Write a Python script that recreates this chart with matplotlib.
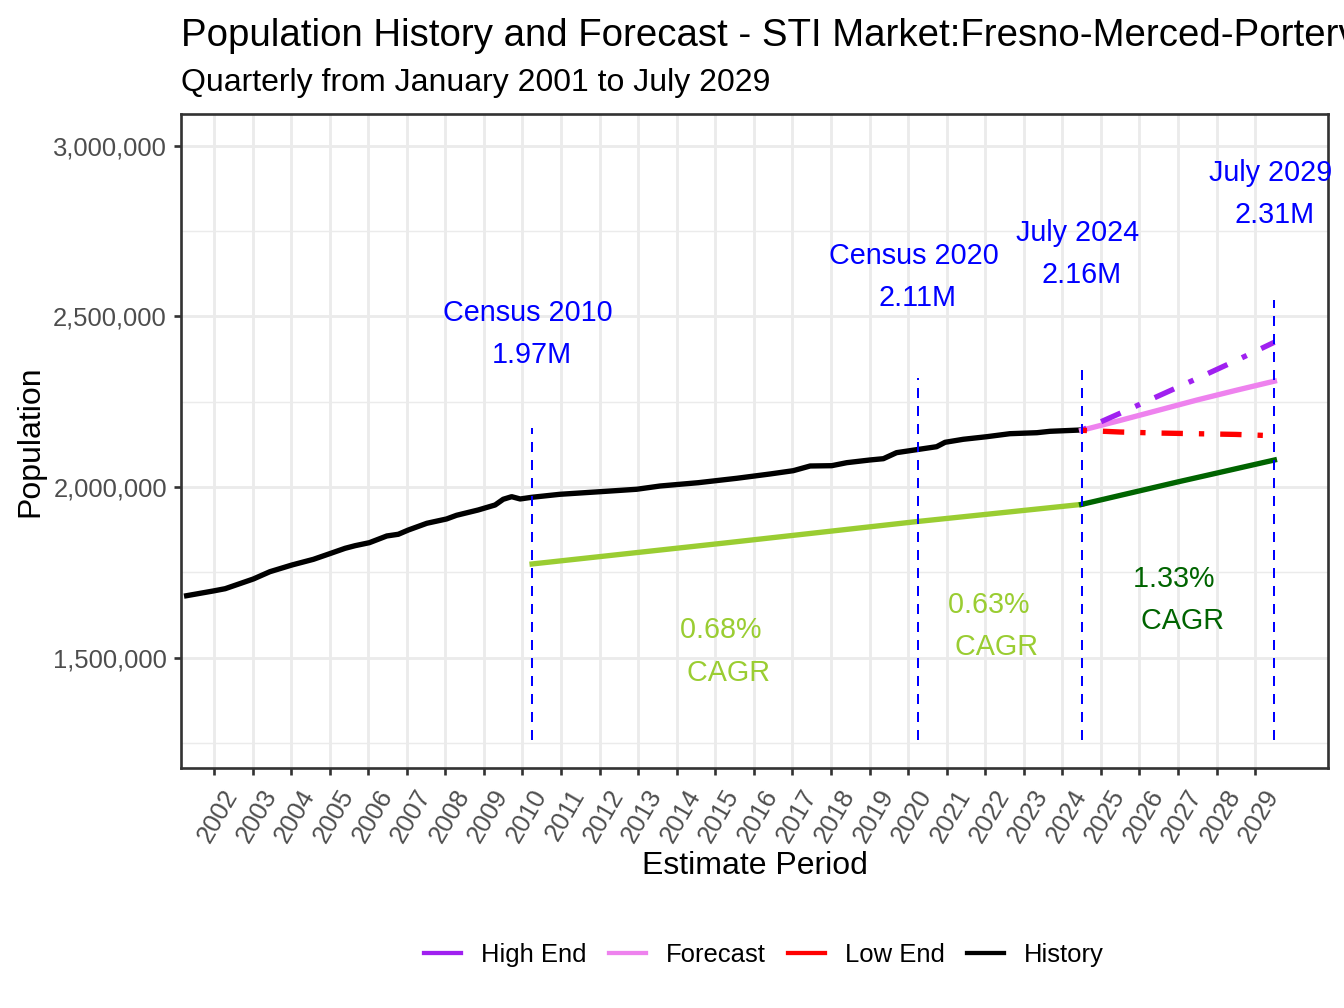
import matplotlib.pyplot as plt
from matplotlib.lines import Line2D
from matplotlib.ticker import FuncFormatter, MultipleLocator
from matplotlib.transforms import ScaledTranslation, blended_transform_factory

plt.rcParams['font.family'] = ['Liberation Sans', 'DejaVu Sans']

# ---------------- data ----------------
hist_year = [2001.29, 2001.98, 2002.29, 2003.02, 2003.45, 2004.02, 2004.58, 2005.03,
             2005.40, 2005.66, 2006.03, 2006.48, 2006.78, 2007.04, 2007.52, 2008.03,
             2008.29, 2008.85, 2009.29, 2009.50, 2009.72, 2009.94, 2010.24, 2010.97,
             2012.01, 2012.96, 2013.57, 2014.56, 2015.56, 2016.42, 2017.02, 2017.46,
             2018.02, 2018.41, 2019.01, 2019.36, 2019.70, 2020.22, 2020.74, 2020.96,
             2021.43, 2022.04, 2022.64, 2023.34, 2023.68, 2024.50]
hist_pop = [1681600, 1695400, 1702100, 1730500, 1751900, 1771500, 1788200, 1805800,
            1820400, 1828100, 1836900, 1856500, 1861500, 1874000, 1893700, 1906300,
            1917100, 1932600, 1947300, 1964000, 1971600, 1964900, 1969800, 1978600,
            1986200, 1993300, 2002900, 2012600, 2025500, 2038100, 2047700, 2061500,
            2062400, 2071200, 2079100, 2082900, 2100500, 2109300, 2118000, 2130900,
            2139700, 2147300, 2156100, 2159000, 2163100, 2167000]

fc_year = [2024.5, 2025.5, 2026.5, 2027.5, 2028.5, 2029.5]
forecast = [2166000, 2195000, 2225000, 2255000, 2283000, 2310000]
high_end = [2166000, 2216000, 2267000, 2318000, 2370000, 2424000]
low_end = [2166000, 2161000, 2158000, 2156000, 2154000, 2150000]

cagr1_year = [2010.25, 2015.25, 2020.25, 2024.5]
cagr1_pop = [1774500, 1836000, 1899000, 1949000]
cagr2_year = [2024.5, 2027.0, 2029.5]
cagr2_pop = [1949000, 2015000, 2079000]

mark_year = [2010.25, 2020.25, 2024.5, 2029.5]
mark_name = ['Census 2010', 'Census 2020', 'July 2024', 'July 2029']
mark_val = ['1.97M', '2.11M', '2.16M', '2.31M']

cagr_text = ['0.68%', '0.63%', '1.33%']
cagr_mid = [2015.25, 2022.2, 2027.0]

years = list(range(2002, 2030))

# ---------------- figure ----------------
fig = plt.figure(figsize=(7, 5.25), dpi=192)
ax = fig.add_axes([181/1344, 1-768/1008, (1328-181)/1344, (768-114)/1008])

ax.set_xlim(2001.144, 2030.89)
ax.set_ylim(1176900, 3092500)

ax.set_xticks(years)
ax.set_xticklabels([])
# rotated year labels, placed by hand so they sit like the ggplot ones
lab_tr = blended_transform_factory(ax.transData, ax.transAxes) + \
    ScaledTranslation(8/192, -17/192, fig.dpi_scale_trans)
for y in years:
    ax.text(y, 0, str(y), transform=lab_tr, rotation=60, ha='right', va='top',
            rotation_mode='anchor', fontsize=9.6, color='#4D4D4D', clip_on=False)

ax.yaxis.set_major_locator(MultipleLocator(500000))
ax.yaxis.set_minor_locator(MultipleLocator(250000))
ax.yaxis.set_major_formatter(FuncFormatter(lambda v, p: f'{int(v):,}'))
ax.tick_params(axis='both', which='major', length=2.75, width=1.0, color='#333333',
               labelcolor='#4D4D4D', labelsize=9.6, pad=2.5)
ax.tick_params(axis='y', which='minor', length=0)

ax.grid(which='major', color='#EBEBEB', lw=1.07, zorder=0)
ax.grid(which='minor', axis='y', color='#EBEBEB', lw=0.55, zorder=0)
ax.set_axisbelow(True)
for s in ax.spines.values():
    s.set_color('#333333')
    s.set_linewidth(1.0)

lw = 2.0
dd = (0, (1, 3, 4, 3))
ax.plot(hist_year, hist_pop, color='black', lw=lw, zorder=3)
ax.plot(fc_year, forecast, color='violet', lw=lw, zorder=3)
ax.plot(fc_year, high_end, color='#A020F0', lw=lw, ls=dd, dash_capstyle='butt', zorder=3)
ax.plot(fc_year, low_end, color='red', lw=lw, ls=dd, dash_capstyle='butt', zorder=3)
ax.plot(cagr1_year, cagr1_pop, color='yellowgreen', lw=lw, zorder=3)
ax.plot(cagr2_year, cagr2_pop, color='darkgreen', lw=lw, zorder=3)

# vertical marker lines and labels
vline_top = [2172000, 2319000, 2366000, 2548000]
label_y = [2448000, 2615000, 2682000, 2858000]
for x, top, ly, nm, vl in zip(mark_year, vline_top, label_y, mark_name, mark_val):
    ax.plot([x, x], [1258000, top], color='blue', lw=0.75, ls=(0, (5, 4)), zorder=4)
    ax.annotate(nm + ' ', (x, ly), xytext=(0, 8), textcoords='offset points',
                ha='center', va='center', color='blue', fontsize=10.8,
                annotation_clip=False)
    ax.annotate(vl, (x, ly), xytext=(0, -8), textcoords='offset points',
                ha='center', va='center', color='blue', fontsize=10.8,
                annotation_clip=False)

cagr_y = [1519000, 1593000, 1669000]
cagr_col = ['yellowgreen', 'yellowgreen', 'darkgreen']
for x, y, t, c in zip(cagr_mid, cagr_y, cagr_text, cagr_col):
    ax.annotate(t + ' ', (x, y), xytext=(0, 8), textcoords='offset points',
                ha='center', va='center', color=c, fontsize=10.8)
    ax.annotate(' CAGR', (x, y), xytext=(0, -8), textcoords='offset points',
                ha='center', va='center', color=c, fontsize=10.8)

# titles
fig.text(181/1344, 1-46/1008, 'Population History and Forecast - STI Market:Fresno-Merced-Porterville',
         fontsize=14.4, ha='left', va='baseline')
fig.text(181/1344, 1-91/1008, 'Quarterly from January 2001 to July 2029',
         fontsize=12, ha='left', va='baseline')
fig.text(754.5/1344, 1-866/1008, 'Estimate Period', fontsize=12, ha='center', va='center')
fig.text(30/1344, 1-441/1008, 'Population', fontsize=12, ha='center', va='center',
         rotation=90)

# legend
handles = [Line2D([], [], color='#A020F0', lw=1.6),
           Line2D([], [], color='violet', lw=1.6),
           Line2D([], [], color='red', lw=1.6),
           Line2D([], [], color='black', lw=1.6)]
fig.legend(handles, ['High End', 'Forecast', 'Low End', 'History'], ncol=4,
           loc='center', bbox_to_anchor=(764/1344, 1-955/1008), frameon=False,
           fontsize=9.6, handlelength=1.45, handletextpad=0.78, columnspacing=0.86)

fig.savefig('out.png', dpi=192)
